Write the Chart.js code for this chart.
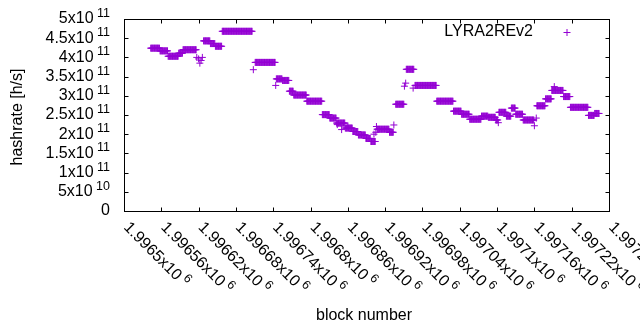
<!DOCTYPE html>
<html><head><meta charset="utf-8">
<script src="https://cdn.jsdelivr.net/npm/chart.js@4/dist/chart.umd.min.js"></script>
<style>html,body{margin:0;padding:0;background:#fff}canvas{display:block}</style>
</head><body>
<canvas id="c" width="640" height="330"></canvas>
<script>
const seriesName = "LYRA2REv2";
const xTitle = "block number";
const yTitle = "hashrate [h/s]";
// runs of constant hashrate (units of 1e11 h/s), block ranges inclusive
const runStart = [1996543,1996558,1996571,1996588,1996595,1996628,1996639,1996647,1996658,1996711,1996745,1996755,1996766,1996773,1996794,1996819,1996831,1996842,1996856,1996868,1996877,1996889,1996897,1996907,1996927,1996937,1996954,1996968,1997003,1997030,1997043,1997056,1997075,1997086,1997098,1997103,1997115,1997123,1997130,1997142,1997164,1997178,1997188,1997207,1997218,1997247,1997257];
const runEnd   = [1996557,1996570,1996587,1996594,1996616,1996638,1996646,1996657,1996706,1996743,1996754,1996765,1996772,1996793,1996818,1996830,1996841,1996855,1996867,1996876,1996888,1996896,1996904,1996926,1996933,1996950,1996966,1997002,1997029,1997042,1997055,1997074,1997085,1997097,1997101,1997114,1997122,1997129,1997141,1997159,1997177,1997187,1997206,1997217,1997246,1997256,1997264];
const runHashrate = [4.24,4.17,4.03,4.11,4.20,4.43,4.36,4.29,4.68,3.87,3.44,3.40,3.12,3.02,2.86,2.51,2.42,2.29,2.16,2.07,1.98,1.89,1.81,2.13,2.05,2.78,3.69,3.27,2.86,2.60,2.52,2.39,2.47,2.44,2.37,2.57,2.47,2.68,2.52,2.37,2.74,2.92,3.14,2.98,2.70,2.49,2.54];
// isolated blocks
const singleBlock    = [1996617,1996620,1996622,1996624,1996626,1996708,1996744,1996843,1996850,1996860,1996902,1996905,1996906,1996934,1996951,1996953,1996965,1997102,1997160,1997163,1997192];
const singleHashrate = [4.00,3.96,3.85,3.92,4.00,3.68,3.27,2.25,2.12,2.21,2.00,2.05,2.20,2.24,3.25,3.33,3.20,2.30,2.22,2.42,3.24];
const hashUnit = 1e11;

const xTickValues = [1996500,1996560,1996620,1996680,1996740,1996800,1996860,1996920,1996980,1997040,1997100,1997160,1997220,1997280];
const xTickMantissa = ["1.9965x10","1.99656x10","1.99662x10","1.99668x10","1.99674x10","1.9968x10","1.99686x10","1.99692x10","1.99698x10","1.99704x10","1.9971x10","1.99716x10","1.99722x10","1.99728x10"];
const xTickExponent = ["6","6","6","6","6","6","6","6","6","6","6","6","6","6"];
const yTickValues = [0,0.5e11,1e11,1.5e11,2e11,2.5e11,3e11,3.5e11,4e11,4.5e11,5e11];
const yTickMantissa = ["0","5x10","1x10","1.5x10","2x10","2.5x10","3x10","3.5x10","4x10","4.5x10","5x10"];
const yTickExponent = ["","10","11","11","11","11","11","11","11","11","11"];

const COLOR = '#9400D3';
const FONT = "'Liberation Sans', Arial, sans-serif";
const FS = 16, FSS = 12.5;

const points = [];
for (let i = 0; i < runStart.length; i++) {
  for (let b = runStart[i]; b <= runEnd[i]; b++) points.push({x: b, y: runHashrate[i] * hashUnit});
}
for (let i = 0; i < singleBlock.length; i++) points.push({x: singleBlock[i], y: singleHashrate[i] * hashUnit});
points.sort((a, b) => a.x - b.x);

const decor = {
  id: 'decor',
  afterDraw(chart) {
    const ctx = chart.ctx, a = chart.chartArea;
    const xs = chart.scales.x, ys = chart.scales.y;
    const L = Math.round(a.left) + 0.5, R = Math.round(a.right) + 0.5;
    const T = Math.round(a.top) + 0.5, B = Math.round(a.bottom) + 0.5;
    ctx.save();
    ctx.strokeStyle = '#000'; ctx.lineWidth = 1;
    ctx.strokeRect(L, T, R - L, B - T);
    const tl = 4;
    ctx.beginPath();
    yTickValues.forEach(v => {
      const y = Math.round(ys.getPixelForValue(v)) + 0.5;
      ctx.moveTo(L, y); ctx.lineTo(L + tl, y);
      ctx.moveTo(R, y); ctx.lineTo(R - tl, y);
    });
    xTickValues.forEach(v => {
      const x = Math.round(xs.getPixelForValue(v)) + 0.5;
      ctx.moveTo(x, B); ctx.lineTo(x, B - tl);
      ctx.moveTo(x, T); ctx.lineTo(x, T + tl);
    });
    ctx.stroke();
    ctx.fillStyle = '#000';
    // y tick labels
    yTickValues.forEach((v, i) => {
      const y = ys.getPixelForValue(v);
      let right = 110;
      ctx.textBaseline = 'middle'; ctx.textAlign = 'right';
      if (yTickExponent[i]) {
        ctx.font = FSS + 'px ' + FONT;
        ctx.fillText(yTickExponent[i], right, y - 5.5);
        right -= ctx.measureText(yTickExponent[i]).width + 3.5;
      }
      ctx.font = FS + 'px ' + FONT;
      ctx.fillText(yTickMantissa[i], right, y);
    });
    // x tick labels rotated
    xTickValues.forEach((v, i) => {
      const x = xs.getPixelForValue(v);
      ctx.save();
      ctx.translate(x + 2, B + 13.5);
      ctx.rotate(Math.PI / 4);
      ctx.textAlign = 'left'; ctx.textBaseline = 'middle';
      ctx.font = FS + 'px ' + FONT;
      ctx.fillText(xTickMantissa[i], 0, 0);
      const w = ctx.measureText(xTickMantissa[i]).width;
      ctx.font = FSS + 'px ' + FONT;
      ctx.fillText(xTickExponent[i], w + 3.5, -5.5);
      ctx.restore();
    });
    // axis titles
    ctx.font = FS + 'px ' + FONT;
    ctx.textAlign = 'center'; ctx.textBaseline = 'middle';
    ctx.fillText(xTitle, 364, 316);
    ctx.save();
    ctx.translate(18, 117);
    ctx.rotate(-Math.PI / 2);
    ctx.fillText(yTitle, 0, 0);
    ctx.restore();
    // legend
    ctx.textAlign = 'right';
    ctx.fillText(seriesName, 533, 32);
    ctx.strokeStyle = COLOR;
    ctx.beginPath();
    ctx.moveTo(563.5, 32.5); ctx.lineTo(570.5, 32.5);
    ctx.moveTo(567, 29); ctx.lineTo(567, 36);
    ctx.stroke();
    ctx.restore();
  }
};

new Chart(document.getElementById('c'), {
  type: 'scatter',
  data: { datasets: [{
    label: seriesName,
    data: points,
    pointStyle: 'cross',
    pointRadius: 3.5,
    pointBorderWidth: 1,
    borderColor: COLOR,
    backgroundColor: COLOR,
    showLine: false
  }]},
  options: {
    responsive: false,
    animation: false,
    devicePixelRatio: 1,
    layout: { padding: { left: 124, right: 31, top: 19, bottom: 119 } },
    plugins: { legend: { display: false }, tooltip: { enabled: false } },
    scales: {
      x: { type: 'linear', min: 1996500, max: 1997280, display: false },
      y: { type: 'linear', min: 0, max: 5e11, display: false }
    }
  },
  plugins: [decor]
});
</script>
</body></html>
